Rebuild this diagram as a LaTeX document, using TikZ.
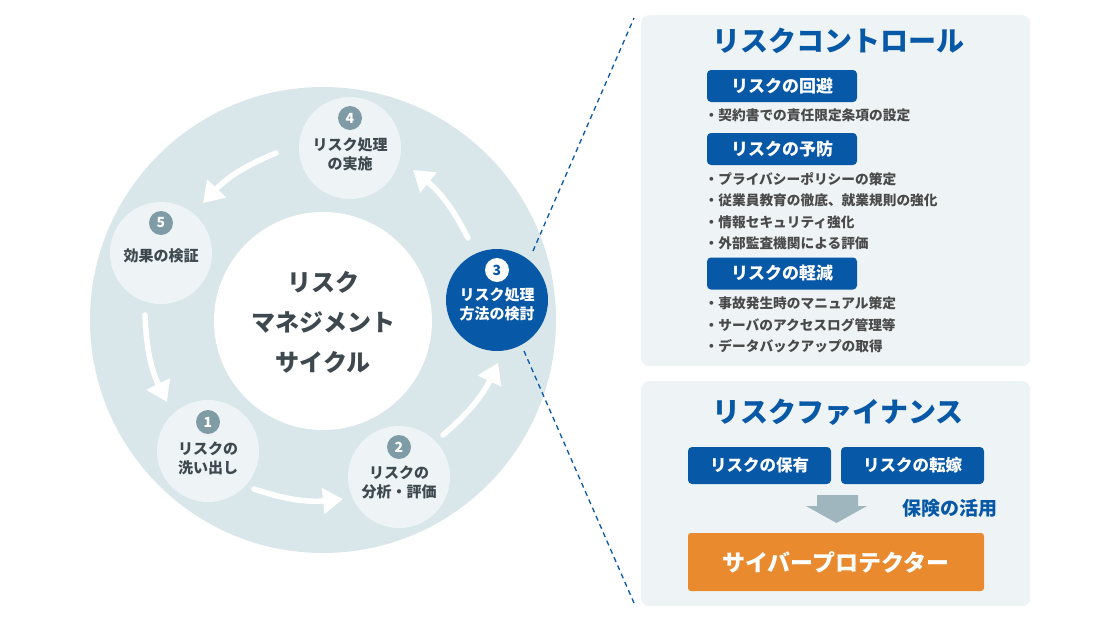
\documentclass[tikz,border=0pt]{standalone}
\usepackage{fontspec}
\setmainfont{Noto Sans CJK JP}
\usetikzlibrary{arrows.meta}
\definecolor{ringc}{HTML}{D9E7EA}
\definecolor{cfill}{HTML}{EEF4F5}
\definecolor{badgec}{HTML}{7F9BA6}
\definecolor{navy}{HTML}{0758A6}
\definecolor{txtc}{HTML}{3E494F}
\definecolor{itemc}{HTML}{4A4A4A}
\definecolor{panelc}{HTML}{EEF4F5}
\definecolor{orangec}{HTML}{E98A2F}
\definecolor{grayarrow}{HTML}{9FB6BF}
\tikzset{
  stepcirc/.style={circle, fill=cfill, minimum size=102pt, inner sep=0pt},
  badge/.style={circle, fill=badgec, text=white, minimum size=24pt, inner sep=0pt, font=\fontsize{14}{14}\selectfont\bfseries},
  steptext/.style={align=center, text=txtc, inner sep=0pt, font=\fontsize{15}{19}\selectfont\bfseries},
  flow/.style={draw=white, line width=5.5pt, line cap=round, -{Triangle[length=20pt,width=25pt]}},
  guide/.style={draw=navy, line width=1.3pt, dash pattern=on 5pt off 4pt},
  panel/.style={fill=panelc, rounded corners=8pt, inner sep=0pt, anchor=north west},
  ptitle/.style={text=navy, inner sep=0pt, font=\fontsize{28}{28}\selectfont\bfseries},
  lab/.style={fill=navy, text=white, rounded corners=4pt, inner sep=0pt, font=\fontsize{17}{17}\selectfont\bfseries},
  itemtext/.style={anchor=west, text=itemc, inner sep=0pt, font=\fontsize{13.7}{13.7}\selectfont\bfseries},
}
\begin{document}
\begin{tikzpicture}[x=1pt,y=-1pt]
\useasboundingbox (0,0) rectangle (1120,624);
\fill[white] (0,0) rectangle (1120,624);
% ring
\node[circle, fill=ringc, minimum size=466pt, inner sep=0pt] (ring) at (323,320) {};
\node[circle, fill=white, minimum size=218pt, inner sep=0pt] (hub) at (323,321) {};
\node[align=center, text=txtc, inner sep=0pt, font=\fontsize{24}{40}\selectfont\bfseries] (hubtext) at (323,322) {リスク\\マネジメント\\サイクル};
% step circles
\node[stepcirc] (s4) at (350,148) {};
\node[stepcirc] (s5) at (161,253) {};
\node[stepcirc] (s1) at (208,451) {};
\node[stepcirc] (s2) at (399,477) {};
\node[stepcirc, fill=navy] (s3) at (497,300) {};
% badges
\node[badge] (b4) at (350,118) {4};
\node[badge] (b5) at (161,223) {5};
\node[badge] (b1) at (208,422) {1};
\node[badge] (b2) at (399,447) {2};
\node[badge, fill=white, text=navy] (b3) at (497,270) {3};
% step texts
\node[steptext] (t4) at (350,154.5) {リスク処理\\の実施};
\node[steptext] (t5) at (161,256) {効果の検証};
\node[steptext] (t1) at (208,458.5) {リスクの\\洗い出し};
\node[steptext] (t2) at (399,482) {リスクの\\分析・評価};
\node[steptext, text=white] (t3) at (497,304) {リスク処理\\方法の検討};
% flow arrows
\coordinate (a51s) at (145,315); \coordinate (a51e) at (167,402);
\coordinate (a12s) at (254,489); \coordinate (a12e) at (343,499);
\coordinate (a23s) at (443,435); \coordinate (a23e) at (498,363);
\coordinate (a34s) at (468,238); \coordinate (a34e) at (413,170);
\coordinate (a45s) at (276,153); \coordinate (a45e) at (203,203);
\draw[flow] (a51s) to[bend right=12] (a51e);
\draw[flow] (a12s) to[bend right=12] (a12e);
\draw[flow] (a23s) to[bend right=12] (a23e);
\draw[flow] (a34s) to[bend right=12] (a34e);
\draw[flow] (a45s) to[bend right=12] (a45e);
% guide lines
\coordinate (g1s) at (533,251); \coordinate (g1e) at (634,18);
\coordinate (g2s) at (524,351); \coordinate (g2e) at (634,603);
\draw[guide] (g1s) -- (g1e);
\draw[guide] (g2s) -- (g2e);
% risk control panel
\node[panel, minimum width=389pt, minimum height=351pt] (ctrl) at (641,15) {};
\node[ptitle] (ctrlT) at (838,41) {リスクコントロール};
\node[lab, minimum width=150pt, minimum height=32pt] (avoid) at (782,86) {リスクの回避};
\node[itemtext] (i1) at (704.5,115) {・契約書での責任限定条項の設定};
\node[lab, minimum width=150pt, minimum height=32pt] (prevent) at (782,149) {リスクの予防};
\node[itemtext] (i2) at (704.5,179) {・プライバシーポリシーの策定};
\node[itemtext] (i3) at (704.5,200) {・従業員教育の徹底、就業規則の強化};
\node[itemtext] (i4) at (704.5,222) {・情報セキュリティ強化};
\node[itemtext] (i5) at (704.5,243) {・外部監査機関による評価};
\node[lab, minimum width=150pt, minimum height=32pt] (reduce) at (782,273.5) {リスクの軽減};
\node[itemtext] (i6) at (704.5,303) {・事故発生時のマニュアル策定};
\node[itemtext] (i7) at (704.5,325) {・サーバのアクセスログ管理等};
\node[itemtext] (i8) at (704.5,346) {・データバックアップの取得};
% risk finance panel
\node[panel, minimum width=389pt, minimum height=225pt] (fin) at (641,381) {};
\node[ptitle] (finT) at (838,412) {リスクファイナンス};
\node[lab, minimum width=143pt, minimum height=37pt, font=\fontsize{16.5}{16.5}\selectfont\bfseries] (hold) at (759.5,465.5) {リスクの保有};
\node[lab, minimum width=143pt, minimum height=37pt, font=\fontsize{16.5}{16.5}\selectfont\bfseries] (transfer) at (912.5,465.5) {リスクの転嫁};
\fill[grayarrow] (817,495) -- (858,495) -- (858,506) -- (867,506) -- (836.5,523) -- (806,506) -- (817,506) -- cycle;
\node[text=navy, inner sep=0pt, font=\fontsize{19}{19}\selectfont\bfseries] (ins) at (949.5,508) {保険の活用};
\node[fill=orangec, text=white, rounded corners=3pt, inner sep=0pt, minimum width=296pt, minimum height=58pt, font=\fontsize{23}{23}\selectfont\bfseries] (cyber) at (836,562) {サイバープロテクター};
\end{tikzpicture}
\end{document}
